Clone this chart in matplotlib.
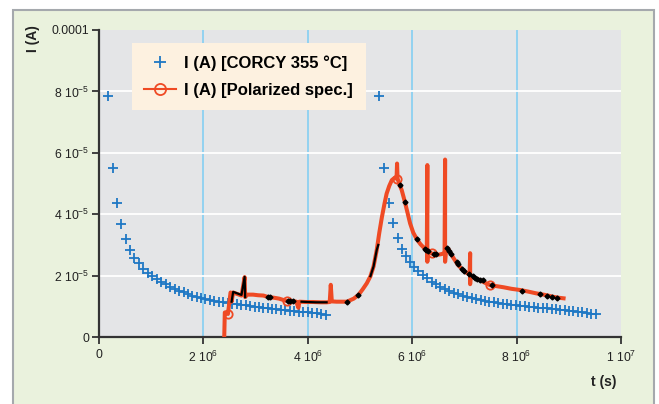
import numpy as np
import matplotlib
matplotlib.use('Agg')
import matplotlib.pyplot as plt
from matplotlib.patches import Rectangle

plt.rcParams['font.family'] = ['Liberation Sans', 'DejaVu Sans']
plt.rcParams['mathtext.fontset'] = 'custom'
plt.rcParams['mathtext.rm'] = 'Liberation Sans'
plt.rcParams['mathtext.default'] = 'regular'

# ==========
# Data (t in 1e6 s, I in 1e-5 A)
# ==========

corcy_t1 = [0.17, 0.26, 0.34, 0.43, 0.51, 0.60, 0.68, 0.77, 0.85, 0.94,
            1.02, 1.11, 1.19, 1.28, 1.36, 1.45, 1.53, 1.62, 1.70, 1.79,
            1.87, 1.96, 2.04, 2.13, 2.21, 2.30, 2.38, 2.47, 2.55, 2.64,
            2.72, 2.81, 2.89, 2.98, 3.06, 3.15, 3.23, 3.32, 3.40, 3.49,
            3.57, 3.66, 3.74, 3.83, 3.91, 4.00, 4.08, 4.17, 4.25, 4.34]
corcy_i1 = [7.84, 5.50, 4.37, 3.67, 3.20, 2.85, 2.56, 2.40, 2.23, 2.09,
            1.98, 1.88, 1.80, 1.72, 1.63, 1.57, 1.50, 1.45, 1.40, 1.33,
            1.29, 1.26, 1.23, 1.20, 1.17, 1.15, 1.13, 1.11, 1.09, 1.07,
            1.05, 1.03, 1.01, 0.99, 0.97, 0.96, 0.94, 0.92, 0.91, 0.89,
            0.88, 0.86, 0.85, 0.83, 0.82, 0.80, 0.78, 0.77, 0.75, 0.73]

corcy_t2 = [5.37, 5.46, 5.55, 5.63, 5.72, 5.80, 5.88, 5.96, 6.04, 6.12,
            6.20, 6.29, 6.37, 6.46, 6.54, 6.63, 6.71, 6.80, 6.88, 6.97,
            7.05, 7.14, 7.22, 7.31, 7.39, 7.48, 7.56, 7.65, 7.73, 7.82,
            7.90, 7.99, 8.07, 8.16, 8.24, 8.33, 8.41, 8.50, 8.58, 8.67,
            8.75, 8.84, 8.92, 9.01, 9.09, 9.18, 9.26, 9.35, 9.43, 9.52]
corcy_i2 = [7.84, 5.52, 4.37, 3.72, 3.23, 2.88, 2.63, 2.45, 2.29, 2.16,
            2.02, 1.91, 1.80, 1.72, 1.64, 1.56, 1.50, 1.44, 1.40, 1.34,
            1.30, 1.26, 1.23, 1.19, 1.17, 1.15, 1.13, 1.11, 1.09, 1.07,
            1.05, 1.04, 1.02, 1.00, 0.99, 0.97, 0.96, 0.94, 0.93, 0.91,
            0.90, 0.88, 0.87, 0.85, 0.84, 0.82, 0.80, 0.78, 0.76, 0.74]

pol_t = [2.40, 2.41, 2.47, 2.52, 2.54, 2.54, 2.57, 2.65, 2.73, 2.79,
         2.80, 2.84, 2.95, 3.05, 3.15, 3.24, 3.35, 3.45, 3.60, 3.72,
         3.78, 3.82, 3.84, 3.95, 4.10, 4.25, 4.36, 4.42, 4.44, 4.46,
         4.55, 4.75, 4.88, 4.97, 5.05, 5.13, 5.20, 5.26, 5.32, 5.37,
         5.42, 5.47, 5.51, 5.56, 5.61, 5.66, 5.70, 5.71, 5.72, 5.76,
         5.80, 5.86, 5.91, 5.96, 6.02, 6.09, 6.16, 6.24, 6.28, 6.29,
         6.29, 6.30, 6.37, 6.43, 6.50, 6.56, 6.60, 6.62, 6.63, 6.63,
         6.65, 6.69, 6.78, 6.88, 7.01, 7.08, 7.10, 7.11, 7.11, 7.12,
         7.20, 7.30, 7.40, 7.49, 7.60, 7.75, 7.90, 8.07, 8.22, 8.38,
         8.55, 8.70, 8.80, 8.90]
pol_i = [0.05, 0.80, 0.75, 1.45, 1.40, 1.15, 1.45, 1.40, 1.35, 1.95,
         1.30, 1.38, 1.38, 1.36, 1.35, 1.30, 1.28, 1.25, 1.17, 1.17,
         1.15, 0.95, 1.15, 1.14, 1.14, 1.13, 1.13, 1.14, 1.70, 1.16,
         1.15, 1.15, 1.25, 1.37, 1.55, 1.75, 1.98, 2.30, 2.83, 3.40,
         3.91, 4.35, 4.67, 4.92, 5.11, 5.18, 5.16, 5.65, 5.16, 4.95,
         4.78, 4.40, 4.05, 3.70, 3.40, 3.18, 3.02, 2.88, 2.80, 5.60,
         2.45, 2.78, 2.72, 2.70, 2.68, 2.70, 2.72, 2.72, 5.78, 2.45,
         2.90, 2.88, 2.60, 2.34, 2.12, 2.06, 2.02, 2.73, 1.72, 2.00,
         1.93, 1.85, 1.76, 1.69, 1.66, 1.62, 1.57, 1.53, 1.48, 1.42,
         1.37, 1.31, 1.28, 1.26]
pol_circles = [2, 18, 46, 62, 83]

black_t = [2.54, 2.57, 2.73, 2.79, 2.80, np.nan, 3.88, 4.00, 4.15, 4.36,
           np.nan, 5.20, 5.26, 5.32, 5.35]
black_i = [1.15, 1.47, 1.37, 1.96, 1.30, np.nan, 1.15, 1.14, 1.13, 1.13,
           np.nan, 1.98, 2.30, 2.83, 3.00]

dots_t = [3.24, 3.27, 3.62, 3.66, 3.72, 4.75, 4.97, 5.76, 5.86, 6.09,
          6.24, 6.27, 6.31, 6.42, 6.45, 6.67, 6.70, 6.74, 6.85, 6.88,
          6.96, 7.00, 7.08, 7.16, 7.21, 7.25, 7.29, 7.36, 7.52, 8.10,
          8.45, 8.58, 8.67, 8.78]
dots_i = [1.30, 1.29, 1.17, 1.17, 1.16, 1.15, 1.37, 4.95, 4.40, 3.18,
          2.88, 2.82, 2.80, 2.70, 2.69, 2.90, 2.80, 2.70, 2.45, 2.38,
          2.22, 2.15, 2.05, 1.98, 1.92, 1.89, 1.86, 1.85, 1.69, 1.51,
          1.40, 1.34, 1.31, 1.26]

xticks = [0, 2e6, 4e6, 6e6, 8e6, 1e7]
xtick_labels = ['0', '2 10$^{6}$', '4 10$^{6}$', '6 10$^{6}$', '8 10$^{6}$', '1 10$^{7}$']
yticks = [0, 2e-5, 4e-5, 6e-5, 8e-5, 1e-4]
ytick_labels = ['0', '2 10$^{-5}$', '4 10$^{-5}$', '6 10$^{-5}$', '8 10$^{-5}$', '0.0001']

ts, Is = 1e6, 1e-5
blue = '#1f78c4'
red = '#ef4a24'

# ==========
# Figure
# ==========

fig = plt.figure(figsize=(6.59, 4.04), dpi=100)
fig.patch.set_facecolor('white')
bg = fig.add_axes([0, 0, 1, 1], zorder=0)
bg.set_xlim(0, 659)
bg.set_ylim(404, 0)
bg.axis('off')
bg.add_patch(Rectangle((13, 10), 641, 420, facecolor='#eaf2dd',
                       edgecolor='#a5a9ad', lw=1.5))

ax = fig.add_axes([99/659, 1 - 337/404, 522/659, 307/404], zorder=2)
ax.set_facecolor('#e4e5e7')

for x in xticks[1:-1]:
    ax.axvline(x, color='#8cd1f2', lw=1.3, zorder=1)
for y in yticks[1:-1]:
    ax.axhline(y, color='white', lw=1.3, zorder=1)

ax.plot(np.array(corcy_t1)*ts, np.array(corcy_i1)*Is, '+', color=blue, ms=7.5, mew=1.3, zorder=3)
ax.plot(np.array(corcy_t2)*ts, np.array(corcy_i2)*Is, '+', color=blue, ms=7.5, mew=1.3, zorder=3)

ax.plot(np.array(pol_t)*ts, np.array(pol_i)*Is, '-', color=red, lw=2.9, zorder=4)
ax.plot(np.array(pol_t)[pol_circles]*ts, np.array(pol_i)[pol_circles]*Is, 'o', color=red,
        mfc='none', ms=6, mew=1.3, zorder=4)
ax.plot(np.array(black_t)*ts, np.array(black_i)*Is, '-', color='black', lw=1.6, zorder=5)
ax.plot(np.array(dots_t)*ts, np.array(dots_i)*Is, 'D', color='black', ms=2.5, zorder=5)

# legend proxies
h1, = ax.plot([], [], '+', color=blue, ms=9, mew=1.3)
h2, = ax.plot([], [], '-o', color=red, mfc='none', ms=8, mew=1.3, lw=1.5)
leg = ax.legend([h1, h2], ['I (A) [CORCY 355 °C]', 'I (A) [Polarized spec.]'],
                loc='upper left', bbox_to_anchor=(0.063, 0.958), borderaxespad=0,
                prop={'weight': 'bold', 'size': 12}, frameon=True, fancybox=False,
                facecolor='#fdf1e0', edgecolor='none', framealpha=1,
                handlelength=1.9, handletextpad=0.5, labelspacing=0.7,
                borderpad=0.75)
leg.set_zorder(6)

ax.set_xlim(0, 1e7)
ax.set_ylim(0, 1e-4)
ax.set_xticks(xticks)
ax.set_xticklabels(xtick_labels)
ax.set_yticks(yticks)
ax.set_yticklabels(ytick_labels)
ax.tick_params(axis='both', direction='out', length=5, width=1.3, color='#333333',
               labelsize=8.8, labelcolor='#222222')
ax.tick_params(axis='y', pad=2)
ax.tick_params(axis='x', pad=4)

for s in ['top', 'right']:
    ax.spines[s].set_visible(False)
for s in ['left', 'bottom']:
    ax.spines[s].set_color('#333333')
    ax.spines[s].set_linewidth(1.6)

fig.text(33/659, 1 - 39/404, 'I (A)', rotation=90, ha='center', va='center',
         fontsize=10, fontweight='bold', color='#222222', zorder=3)
fig.text(604/659, 1 - 382/404, 't (s)', ha='center', va='center',
         fontsize=10, fontweight='bold', color='#222222', zorder=3)

fig.savefig('out.png', dpi=100)
